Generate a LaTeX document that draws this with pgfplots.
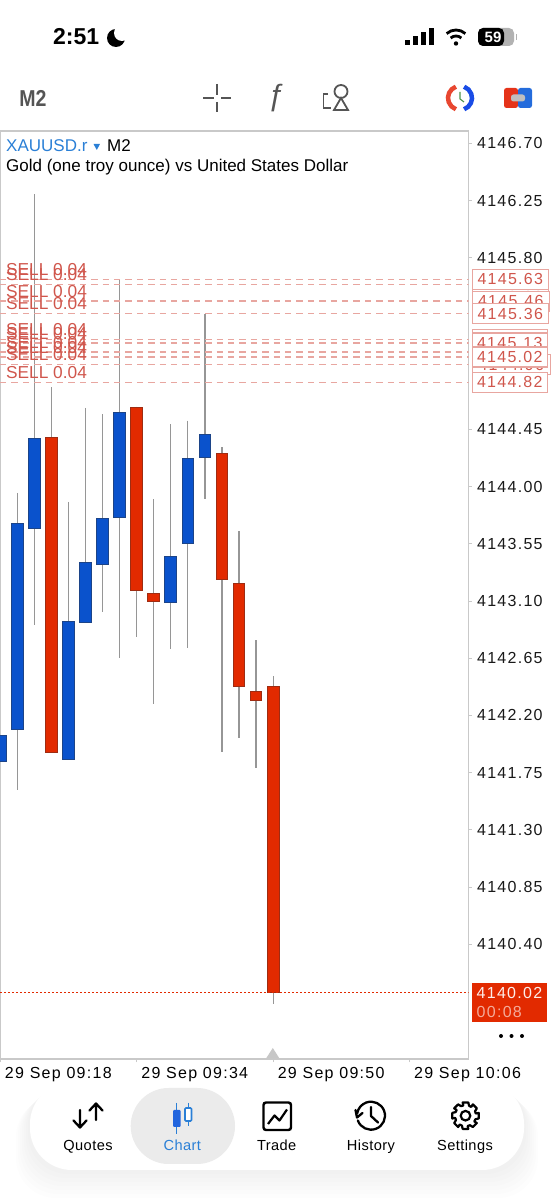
\documentclass[border=0pt]{standalone}
\usepackage{fontspec}
\usepackage{pgfplots}
\pgfplotsset{compat=1.18}
\setmainfont{Liberation Sans}
\newfontfamily\spaced[LetterSpace=8]{Liberation Sans}
\newfontfamily\tabf[LetterSpace=3]{Liberation Sans}
\definecolor{upb}{HTML}{0A52CC}
\definecolor{upe}{HTML}{1C4488}
\definecolor{dnr}{HTML}{E22A00}
\definecolor{dne}{HTML}{9E2C12}
\definecolor{wick}{HTML}{969696}
\definecolor{frame}{HTML}{C9C9C9}
\definecolor{sellc}{HTML}{D0564C}
\definecolor{sellb}{HTML}{E8A6A0}
\definecolor{icog}{HTML}{555555}
\definecolor{link}{HTML}{2A7FD6}
\newcommand\tickf{\spaced\fontsize{16}{18}\selectfont}
% i, body top, body bottom, high, low, fill, edge
\newcommand\candle[7]{%
  \addplot[wick,line width=1.2pt] coordinates {(#1,#4) (#1,#5)};
  \pgfmathsetmacro\xl{#1-0.345}\pgfmathsetmacro\xr{#1+0.345}%
  \edef\temp{\noexpand\addplot[fill=#6,draw=#7,line width=0.9pt] coordinates {(\xl,#2) (\xr,#2) (\xr,#3) (\xl,#3)} --cycle;}\temp
}
\newcommand\sellline[1]{%
  \addplot[sellb,line width=1.3pt,dash pattern=on 6.5pt off 4.9pt] coordinates {(-0.02,#1) (27.46,#1)};
  \node[anchor=south west,text=sellc,inner sep=0pt,font=\fontsize{17.3}{18}\selectfont] at (axis cs:0.33,#1) [yshift=3.4pt] {SELL 0.04};
}
\newcommand\pricetag[2]{%
  \node[anchor=west,draw=sellb,fill=white,line width=1.1pt,text=sellc,minimum width=#2,minimum height=20pt,inner sep=0pt,font=\tickf] at (axis cs:27.65,#1) {#1};
}
\begin{document}
\begin{tikzpicture}
\path[use as bounding box] (0,0) rectangle (554pt,1200pt);
\begin{axis}[
  at={(0,141pt)},anchor=south west,
  scale only axis,width=468.5pt,height=928pt,
  xmin=-0.0176,xmax=27.46,ymin=4139.497,ymax=4146.798,
  clip mode=individual,
  axis line style={frame,line width=1.2pt},
  tick align=outside,major tick length=3.4pt,
  tick style={frame,line width=1pt},
  xtick pos=bottom,ytick pos=right,yticklabel pos=right,
  xtick={0,8,16,24},
  xticklabels={29 Sep 09:18,29 Sep 09:34,29 Sep 09:50,29 Sep 10:06},
  ytick={4146.70,4146.25,4145.80,4144.45,4144.00,4143.55,4143.10,4142.65,4142.20,4141.75,4141.30,4140.85,4140.40},
  x tick label style={font=\tickf,anchor=north west,xshift=0.5pt,yshift=-1pt,inner sep=4pt,text=black},
  y tick label style={font=\tickf,anchor=west,xshift=1pt,inner sep=4pt,text=black!90,
    /pgf/number format/.cd,fixed,fixed zerofill,precision=2,1000 sep={},assume math mode=true},
  scaled y ticks=false,
]
\candle{0}{4142.04}{4141.84}{4142.04}{4141.84}{upb}{upe}
\candle{1}{4143.71}{4142.09}{4143.95}{4141.61}{upb}{upe}
\candle{2}{4144.38}{4143.67}{4146.30}{4142.91}{upb}{upe}
\candle{3}{4144.39}{4141.91}{4144.78}{4141.91}{dnr}{dne}
\candle{4}{4142.94}{4141.85}{4143.88}{4141.85}{upb}{upe}
\candle{5}{4143.40}{4142.93}{4144.62}{4142.93}{upb}{upe}
\candle{6}{4143.75}{4143.39}{4144.57}{4143.01}{upb}{upe}
\candle{7}{4144.58}{4143.76}{4145.63}{4142.65}{upb}{upe}
\candle{8}{4144.62}{4143.18}{4144.63}{4142.82}{dnr}{dne}
\candle{9}{4143.16}{4143.10}{4143.90}{4142.29}{dnr}{dne}
\candle{10}{4143.45}{4143.09}{4144.49}{4142.72}{upb}{upe}
\candle{11}{4144.22}{4143.55}{4144.52}{4142.73}{upb}{upe}
\candle{12}{4144.41}{4144.23}{4145.36}{4143.90}{upb}{upe}
\candle{13}{4144.26}{4143.27}{4144.31}{4141.91}{dnr}{dne}
\candle{14}{4143.24}{4142.43}{4143.65}{4142.02}{dnr}{dne}
\candle{15}{4142.39}{4142.32}{4142.79}{4141.79}{dnr}{dne}
\candle{16}{4142.43}{4140.02}{4142.51}{4139.93}{dnr}{dne}
\addplot[dnr,line width=1.1pt,dash pattern=on 2pt off 2pt] coordinates {(-0.02,4140.02) (27.46,4140.02)};
\sellline{4145.63}\sellline{4145.59}\sellline{4145.46}\sellline{4145.36}\sellline{4145.16}
\sellline{4145.13}\sellline{4145.06}\sellline{4145.02}\sellline{4144.96}\sellline{4144.82}
\pricetag{4145.59}{76pt}\pricetag{4145.63}{76pt}\pricetag{4145.46}{77pt}\pricetag{4145.36}{76pt}
\pricetag{4145.16}{75pt}\pricetag{4144.96}{78pt}\pricetag{4145.06}{75pt}\pricetag{4145.13}{75pt}\pricetag{4145.02}{75pt}\pricetag{4144.82}{75pt}
\end{axis}
\begin{scope}[x=1pt,y=-1pt,shift={(0,1200pt)}]
% status bar
\node[anchor=west,inner sep=0pt,font=\bfseries\fontsize{23}{25}\selectfont] at (53,37) {2:51};
\fill[black] (116,38) circle (9pt); \fill[white] (122,33) circle (8pt);
\fill (405,40) rectangle (409.5,45); \fill (413,36) rectangle (417.5,45); \fill (421,32) rectangle (425.5,45); \fill (429,28) rectangle (433.5,45);
\fill (456,43.5) circle (2.2pt);
\draw[line width=2.8pt] ([shift={(-48:8)}]456,44) arc[start angle=48,end angle=132,radius=8pt];
\draw[line width=2.8pt] ([shift={(-48:14)}]456,44) arc[start angle=48,end angle=132,radius=14pt];
\fill[black!30,rounded corners=5pt] (478,28) rectangle (514,46);
\fill[black,rounded corners=5pt] (478,28) rectangle (504,46);
\fill[black!30] (515.5,34) rectangle (517,40);
\node[text=white,inner sep=0pt,font=\bfseries\fontsize{15}{16}\selectfont] at (493,37) {59};
% toolbar
\node[text=icog,inner sep=0pt,xscale=0.85,font=\bfseries\fontsize{23}{25}\selectfont] at (33,98) {M2};
\draw[icog,line width=1.8pt] (203,98) -- (214,98) (221,98) -- (231,98) (217,84) -- (217,95) (217,102) -- (217,112);
\node[text=icog,inner sep=0pt,font=\fontsize{30}{32}\selectfont] at (277,98) {ƒ};
\draw[icog,line width=1.8pt] (341,91.5) circle (6.5pt);
\draw[icog,line width=1.8pt] (341,98) -- (348,110) -- (334,110) -- cycle;
\draw[icog,line width=1.8pt] (328,94) -- (323.5,94) -- (323.5,108) -- (331,108);
\draw[line width=4.5pt,color=link!60!blue] ([shift={(70:12)}]460,98) arc[start angle=-70,end angle=70,radius=12pt];
\draw[line width=4.5pt,color=red!60!brown!90!white] ([shift={(-110:12)}]460,98) arc[start angle=110,end angle=250,radius=12pt];
\draw[black!30!green!40!gray,line width=1.1pt] (460,92) -- (460,99) -- (464,102);
\fill[red!60!brown,rounded corners=2.5pt] (504,88) rectangle (518,108);
\fill[link!85!blue,rounded corners=2.5pt] (518,88) rectangle (532,108);
\fill[black!25,rounded corners=2.5pt] (511,94.5) rectangle (525,101.5);
% chart header
\node[anchor=base west,inner sep=0pt,text=link,font=\fontsize{17}{18}\selectfont] at (6,151.5) {XAUUSD.r};
\fill[link] (93.5,144) -- (100,144) -- (96.8,150) -- cycle;
\node[anchor=base west,inner sep=0pt,font=\fontsize{17}{18}\selectfont] at (107,151.5) {M2};
\node[anchor=base west,inner sep=0pt,font=\fontsize{17}{18}\selectfont] at (6,172) {Gold (one troy ounce) vs United States Dollar};
% current price
\fill[dnr] (471.7,982.7) rectangle (546.6,1022.3);
\node[anchor=base west,inner sep=0pt,text=white!92!dnr,font=\tickf] at (476.5,998.5) {4140.02};
\node[anchor=base west,inner sep=0pt,text=white!60!dnr,font=\tickf] at (476.5,1017.5) {00:08};
\foreach \p in {501,511.5,522} \fill (\p,1036) circle (2pt);
\fill[black!22] (272.8,1048) -- (279.5,1058.5) -- (266,1058.5) -- cycle;
% tab bar
\foreach \g in {14,12,10,8,6,4,2}
  \fill[black,opacity=0.006,rounded corners=40pt] (30-\g,1083+\g) rectangle (524+\g,1170+2*\g);
\fill[white,rounded corners=42pt] (30,1082) rectangle (524,1170);
\fill[black!8,rounded corners=38pt] (130.7,1088) rectangle (235,1164);
\draw[line width=2.3pt,line cap=round,line join=round] (80,1110) -- (80,1127) (73.5,1120.5) -- (80,1127.5) -- (86.5,1120.5)
  (96,1120) -- (96,1104) (89.5,1110.5) -- (96,1103.5) -- (102.5,1110.5);
\draw[link,line width=1.5pt] (176.7,1103) -- (176.7,1134) (188.3,1103) -- (188.3,1126);
\fill[link!80!blue,rounded corners=1pt] (173,1110) rectangle (180.5,1127);
\draw[link,line width=1.6pt,fill=white,rounded corners=1pt] (185,1108) rectangle (191.5,1121);
\draw[line width=2.4pt,rounded corners=2.5pt] (263.5,1102.5) rectangle (291,1130);
\draw[line width=2.2pt,line join=round] (268,1124) -- (274.5,1115.5) -- (279.5,1120.5) -- (287,1109.5);
\draw[line width=2.3pt,line cap=round] ([shift={(160:14)}]371,1115.7) arc[start angle=-160,end angle=170,radius=14pt];
\draw[line width=2.3pt,line cap=round,line join=round] (355.5,1110) -- (357,1117.5) -- (362.5,1113);
\draw[line width=2.3pt,line cap=round,line join=round] (371,1107) -- (371,1116) -- (378,1122.5);
\begin{scope}[shift={(465.5,1115.7)}]
\draw[line width=2.2pt,line join=round] (-12:13.5) \foreach \a in {0,45,...,315} {-- (\a-12:13.5) -- (\a+12:13.5) -- (\a+20:10.5) -- (\a+33:10.5)} -- cycle;
\draw[line width=2.2pt] (0,0) circle (4.8pt);
\end{scope}
\foreach \x/\t in {88/Quotes,276.7/Trade,371/History,465/Settings}
  \node[inner sep=0pt,anchor=base,font=\tabf\fontsize{14.6}{16}\selectfont] at (\x,1151) {\t};
\node[inner sep=0pt,anchor=base,text=link,font=\tabf\fontsize{14.6}{16}\selectfont] at (182.3,1151) {Chart};
\end{scope}
\end{tikzpicture}
\end{document}
